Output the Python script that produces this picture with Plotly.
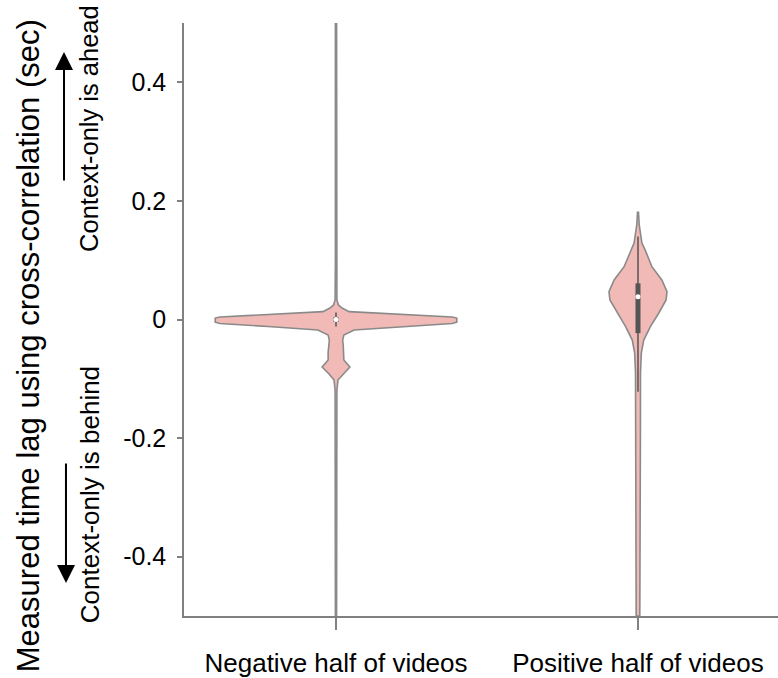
import plotly.graph_objects as go

# ---- data ----
categories = ["Negative half of videos", "Positive half of videos"]
y_tick_vals = [-0.4, -0.2, 0, 0.2, 0.4]
y_tick_text = ["-0.4", "-0.2", "0", "0.2", "0.4"]

# violin outlines: y value and half-width (density, in category units)
neg_y = [0.5, 0.1, 0.033, 0.0245, 0.0194, 0.0132, 0.0084, 0.0042, 0.0025, -0.0045, -0.0068,
         -0.0118, -0.0177, -0.0261, -0.035, -0.043, -0.055, -0.0683, -0.080, -0.092, -0.102,
         -0.119, -0.5]
neg_hw = [0.002, 0.002, 0.003, 0.008, 0.02, 0.043, 0.215, 0.385, 0.40, 0.40, 0.385,
          0.225, 0.06, 0.026, 0.022, 0.024, 0.026, 0.026, 0.046, 0.023, 0.0066,
          0.003, 0.002]

pos_y = [0.182, 0.16, 0.145, 0.129, 0.117, 0.089, 0.0666, 0.047, 0.033, 0.011, -0.012,
         -0.0346, -0.0565, -0.09, -0.2, -0.35, -0.5]
pos_hw = [0.0015, 0.004, 0.0083, 0.013, 0.024, 0.046, 0.079, 0.096, 0.093, 0.069, 0.041,
          0.019, 0.011, 0.0083, 0.008, 0.007, 0.006]

# inner box statistics
box_q1 = [-0.004, -0.023]
box_q3 = [0.004, 0.061]
whisker_lo = [-0.012, -0.122]
whisker_hi = [0.012, 0.14]
medians = [0.0, 0.0385]

FILL = "#F2BAB6"
EDGE = "#8A8A8A"
BOX = "#555555"
AXIS = "#808080"
FONT = "Arial, Liberation Sans, sans-serif"

fig = go.Figure()

for i, (ys, hws) in enumerate([(neg_y, neg_hw), (pos_y, pos_hw)]):
    xs = [i + w for w in hws] + [i - w for w in reversed(hws)]
    yy = list(ys) + list(reversed(ys))
    fig.add_trace(go.Scatter(x=xs, y=yy, mode="lines", fill="toself", fillcolor=FILL,
                             line=dict(color=EDGE, width=1.6), hoverinfo="skip",
                             showlegend=False))
    fig.add_trace(go.Scatter(x=[i, i], y=[whisker_lo[i], whisker_hi[i]], mode="lines",
                             line=dict(color=BOX, width=1.5), showlegend=False))
    fig.add_trace(go.Scatter(x=[i, i], y=[box_q1[i], box_q3[i]], mode="lines",
                             line=dict(color=BOX, width=5), showlegend=False))
    fig.add_trace(go.Scatter(x=[i], y=[medians[i]], mode="markers",
                             marker=dict(color="white", size=5, line=dict(width=0)),
                             showlegend=False))

fig.update_layout(
    width=778, height=678,
    margin=dict(l=184, r=0, t=23, b=62),
    plot_bgcolor="white", paper_bgcolor="white",
    font=dict(family=FONT, color="black"),
    showlegend=False,
    xaxis=dict(range=[-0.5033, 1.4636], showgrid=False, zeroline=False,
               showline=True, linecolor=AXIS, linewidth=1.5,
               ticks="outside", ticklen=12, tickwidth=1.5, tickcolor=AXIS,
               tickvals=[0, 1], ticktext=categories, tickfont=dict(size=26),
               ticklabelstandoff=11),
    yaxis=dict(range=[-0.5, 0.5], showgrid=False, zeroline=False,
               showline=True, linecolor=AXIS, linewidth=1.5,
               ticks="outside", ticklen=5, tickwidth=1.5, tickcolor=AXIS,
               tickvals=y_tick_vals, ticktext=y_tick_text, tickfont=dict(size=25),
               ticklabelstandoff=6),
)

# y-axis title and direction notes
fig.add_annotation(text="Measured time lag using cross-correlation (sec)", textangle=-90,
                   xref="paper", yref="paper", x=-0.2626, y=0.455, showarrow=False,
                   font=dict(size=31), xanchor="center", yanchor="middle")
fig.add_annotation(text="Context-only is ahead", textangle=-90,
                   xref="paper", yref="paper", x=-0.16, y=0.823, showarrow=False,
                   font=dict(size=25.5), xanchor="center", yanchor="middle")
fig.add_annotation(text="Context-only is behind", textangle=-90,
                   xref="paper", yref="paper", x=-0.158, y=0.204, showarrow=False,
                   font=dict(size=26), xanchor="center", yanchor="middle")
fig.add_annotation(text="", xref="paper", yref="paper", x=-0.202, y=0.951,
                   ax=0, ay=130, showarrow=True, arrowhead=2, arrowsize=1.8,
                   arrowwidth=2, arrowcolor="black")
fig.add_annotation(text="", xref="paper", yref="paper", x=-0.1987, y=0.0556,
                   ax=0, ay=-121, showarrow=True, arrowhead=2, arrowsize=1.8,
                   arrowwidth=2, arrowcolor="black")

fig.write_html("out.html")
